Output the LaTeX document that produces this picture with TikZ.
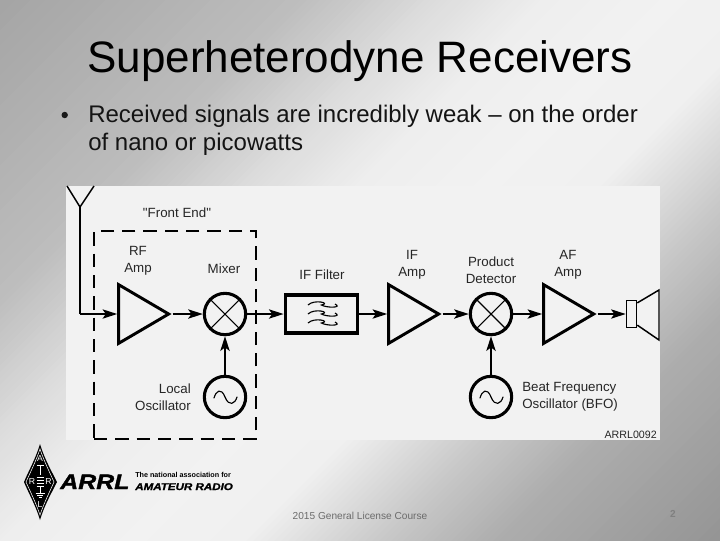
\documentclass[tikz,border=0pt]{standalone}
\usepackage{fontspec}
\setmainfont{Liberation Sans}
\newfontfamily\logofont[FakeStretch=1.19,BoldItalicFeatures={FakeBold=1.6}]{Liberation Sans}
\newfontfamily\quotefont{Liberation Sans}
\usetikzlibrary{arrows.meta,shapes.geometric,calc}
\tikzset{
  x=0.75pt,y=-0.75pt,
  sig/.style={line width=1.1pt,-{Stealth[length=11pt,width=7pt,inset=2.5pt]},black},
  plainw/.style={line width=1.1pt,black},
  ampbox/.style={draw,line width=2.2pt,isosceles triangle,isosceles triangle stretches,shape border rotate=0,minimum width=44pt,minimum height=37.5pt,inner sep=0pt,anchor=apex},
  roundbox/.style={draw,circle,line width=2.3pt,minimum size=31pt,inner sep=0pt},
  lbl/.style={font=\fontsize{10}{12.5}\selectfont,text=black!85,align=center,inner sep=0pt},
  lbll/.style={lbl,align=left},
  lblr/.style={lbl,align=right},
  wave/.style={line width=0.85pt,black},
  slidetitle/.style={font=\fontsize{33}{36}\selectfont,text=black,inner sep=0pt},
  bodytext/.style={font=\fontsize{18}{21.2}\selectfont,text=black!92,align=left,inner sep=0pt},
  foot/.style={font=\fontsize{7.6}{8}\selectfont,text=black!58,inner sep=0pt},
  logoletter/.style={font=\fontsize{6.5}{7}\selectfont,text=white,inner sep=0pt}
}
\newcommand{\sinewave}[1]{\draw[line width=0.85pt,line cap=round] ($(#1.center)+(-11,1)$) .. controls +(2,-7) and +(-4,-10) .. (#1.center) .. controls +(4,10) and +(-2,7) .. ($(#1.center)+(12,0)$);}
\newcommand{\crosslines}[1]{\draw[line width=0.8pt] (#1.45) -- (#1.225) (#1.135) -- (#1.315);}
\newcommand{\tildeat}[2]{\draw[wave] ($(#1.center)+(-13.5,#2)$) .. controls +(6,-6) and +(10,-2) .. ($(#1.center)+(0,#2)$) .. controls +(5,3) and +(8,4) .. ($(#1.center)+(13.5,#2-1)$);}
\begin{document}
\begin{tikzpicture}
\useasboundingbox (0,0) rectangle (720,540);
% diagonal metallic background, painted as overlapping half-planes x+y>=u
\begin{scope}
  \clip (0,0) rectangle (720,540);
  \foreach \ua/\ub/\ga/\gb in {0/300/165/190,300/430/190/220,430/540/220/238,540/665/238/242,665/780/242/240,780/920/240/200,920/1040/200/172,1040/1260/172/148}{
    \foreach \k in {0,...,19}{
      \pgfmathsetmacro{\uu}{\ua+(\ub-\ua)*\k/20}
      \pgfmathsetmacro{\gg}{(\ga+(\gb-\ga)*\k/20)/255}
      \definecolor{bgc}{gray}{\gg}
      \fill[bgc] (\uu,0) -- (1300,0) -- (1300,1300) -- (0,1300) -- (0,\uu) -- cycle;
    }
  }
\end{scope}
\fill[black!5] (66,186) rectangle (660,440);
% antenna
\coordinate (anttop) at (80,207);
\coordinate (antl) at (67,186);
\coordinate (antr) at (94,186);
\coordinate (antcorner) at (80,314);
\draw[plainw] (antl) -- (anttop) -- (antr);
% front end box
\node[draw,dash pattern=on 10pt off 6pt,line width=1pt,minimum width=121.5pt,minimum height=156pt,inner sep=0pt] (frontend) at (175,335) {};
% blocks
\node[ampbox] (rfamp) at (172.5,314) {};
\node[roundbox] (mixer) at (225,314) {};
\node[draw,line width=2.4pt,minimum width=54.5pt,minimum height=28.5pt,inner sep=0pt] (filter) at (321.5,314) {};
\node[ampbox] (ifamp) at (442.5,314) {};
\node[roundbox] (detector) at (491,314) {};
\node[ampbox] (afamp) at (597.5,314) {};
\node[draw,line width=1.2pt,minimum width=7.5pt,minimum height=20pt,inner sep=0pt] (spkbox) at (631.5,314) {};
\node[roundbox] (lo) at (225,397) {};
\node[roundbox] (bfo) at (491,397) {};
\crosslines{mixer}
\crosslines{detector}
\sinewave{lo}
\sinewave{bfo}
\tildeat{filter}{-9}
\tildeat{filter}{0}
\tildeat{filter}{9}
% speaker cone
\coordinate (conetop) at (659,290);
\coordinate (conebot) at (659,340);
\draw[line width=1.1pt] ($(spkbox.north east)+(0,3)$) -- (conetop) -- (conebot) -- ($(spkbox.south east)+(0,-3)$);
% connectors
\draw[plainw] (anttop) -- (antcorner);
\draw[sig] (antcorner) -- (rfamp.west);
\draw[sig] (rfamp.apex) -- (mixer.west);
\draw[sig] (mixer.east) -- (filter.west);
\draw[sig] (filter.east) -- (ifamp.west);
\draw[sig] (ifamp.apex) -- (detector.west);
\draw[sig] (detector.east) -- (afamp.west);
\draw[sig] (afamp.apex) -- (spkbox.west);
\draw[sig] (lo.north) -- (mixer.south);
\draw[sig] (bfo.north) -- (detector.south);
% diagram labels
\node[lbl] (fe) at (177,213) {\quotefont "Front End"};
\node[lbl] (rflbl) at (138,261) {RF\\Amp};
\node[lbl] (mixlbl) at (224,268.5) {Mixer};
\node[lbl] (iflbl) at (322,275) {IF Filter};
\node[lbl] (ifamplbl) at (412,264.5) {IF\\Amp};
\node[lbl] (detlbl) at (491,270.5) {Product\\Detector};
\node[lbl] (aflbl) at (568,264.5) {AF\\Amp};
\node[lblr,anchor=east] (lolbl) at (191,397.5) {Local\\Oscillator};
\node[lbll,anchor=west] (bfolbl) at (522,396.5) {Beat Frequency\\Oscillator (BFO)};
\node[lbl,anchor=east,font=\fontsize{8}{9}\selectfont] (code) at (657,435) {ARRL0092};
% slide text
\node[slidetitle,anchor=base west] (title) at (87,72) {Superheterodyne Receivers};
\node[bodytext,anchor=north west] (body) at (88,105) {Received signals are incredibly weak – on the order\\of nano or picowatts};
\fill[black!90] (64.7,115) circle (3.2);
\node[foot] (footer) at (360,516) {2015 General License Course};
\node[foot,font=\fontsize{7.6}{8}\selectfont\bfseries,text=black!50] (pagenum) at (673,514) {2};
% logo
\fill[black] (40,444) .. controls (44,458) and (52,472) .. (57,482) .. controls (52,492) and (44,506) .. (40,520) .. controls (36,506) and (28,492) .. (24,482) .. controls (28,472) and (36,458) .. cycle;
\draw[white,line width=0.4pt] (40,449) .. controls (44,461) and (50,473) .. (54,482) .. controls (50,491) and (44,503) .. (40,515) .. controls (36,503) and (30,491) .. (26,482) .. controls (30,473) and (36,461) .. cycle;
\node[logoletter] (la) at (40,459) {A};
\node[logoletter] (lr1) at (32,482) {R};
\node[logoletter] (lr2) at (48.5,482) {R};
\node[logoletter] (ll) at (40,505) {L};
\draw[white,line width=0.5pt] (36.5,465.5) -- (43.5,465.5) (40,465.5) -- (40,475) (36.5,477) -- (43.5,477) (36.5,480) -- (43.5,480) (36.5,483) -- (43.5,483) (36.5,486) -- (43.5,486) (40,487) -- (40,493) (35.5,493) -- (44.5,493) (37,495) -- (43,495) (38.5,497) -- (41.5,497);
\node[font=\logofont\bfseries\itshape\fontsize{15.7}{18}\selectfont,inner sep=0pt,anchor=base west] (logoarrl) at (60,489) {ARRL};
\node[font=\fontsize{5.4}{6}\selectfont\bfseries,inner sep=0pt,anchor=west] (logol1) at (135,475) {The national association for};
\node[font=\logofont\bfseries\itshape\fontsize{7.3}{8}\selectfont,inner sep=0pt,anchor=base west] (logol2) at (135,490) {AMATEUR RADIO};
\end{tikzpicture}
\end{document}
